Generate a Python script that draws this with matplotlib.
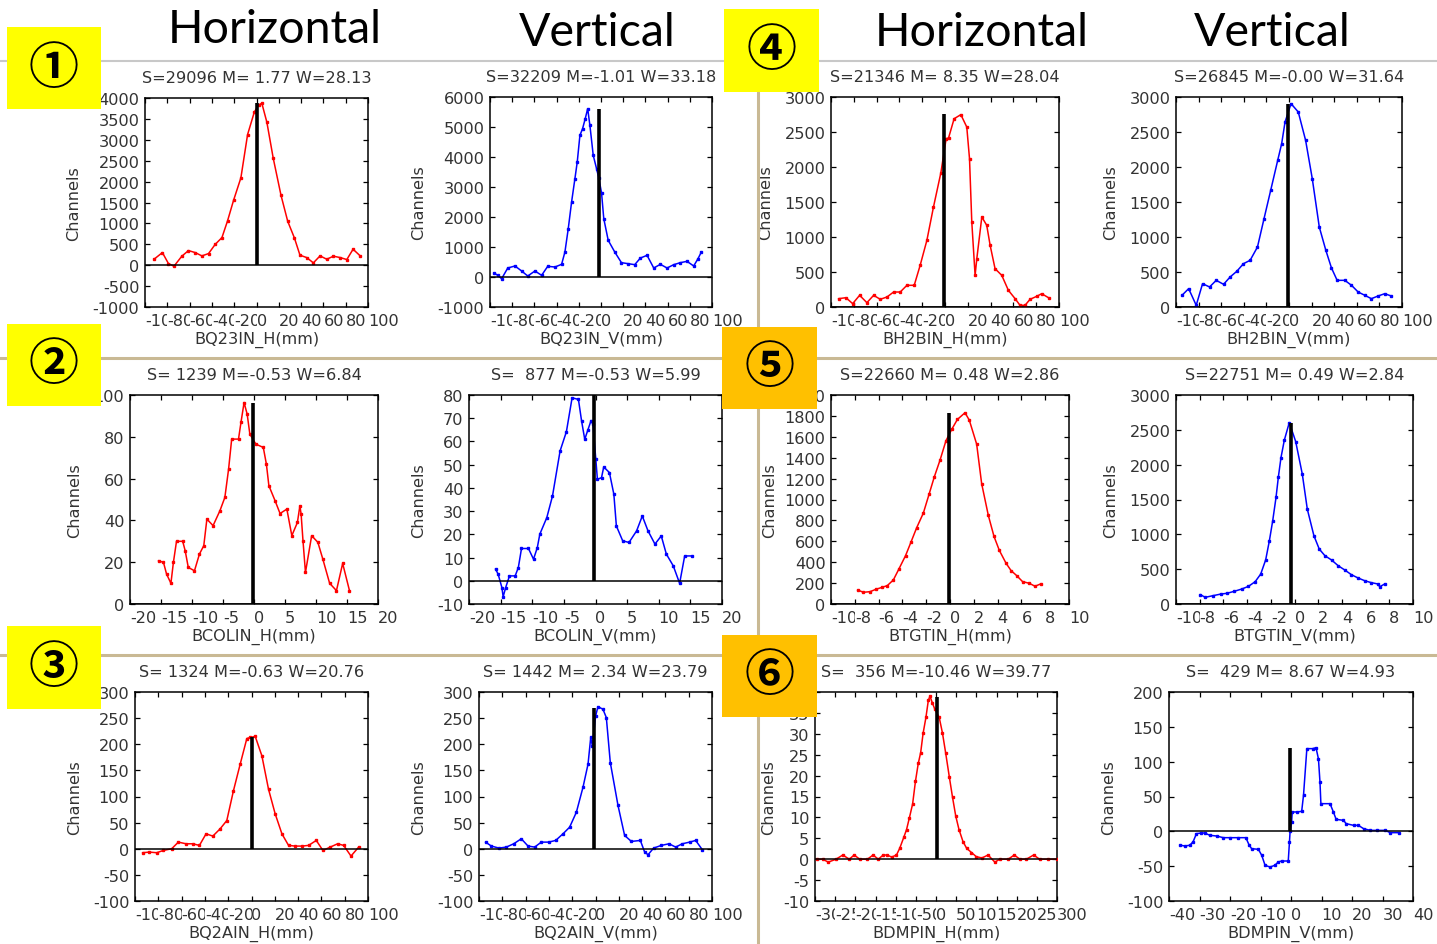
import matplotlib
matplotlib.use('Agg')
import matplotlib.pyplot as plt
from matplotlib.patches import Rectangle
from matplotlib.lines import Line2D

# ---------------- data ----------------
names = ["BQ23IN_H", "BQ23IN_V", "BH2BIN_H", "BH2BIN_V",
         "BCOLIN_H", "BCOLIN_V", "BTGTIN_H", "BTGTIN_V",
         "BQ2AIN_H", "BQ2AIN_V", "BDMPIN_H", "BDMPIN_V"]

titles = ["S=29096 M= 1.77 W=28.13", "S=32209 M=-1.01 W=33.18",
          "S=21346 M= 8.35 W=28.04", "S=26845 M=-0.00 W=31.64",
          "S= 1239 M=-0.53 W=6.84", "S=  877 M=-0.53 W=5.99",
          "S=22660 M= 0.48 W=2.86", "S=22751 M= 0.49 W=2.84",
          "S= 1324 M=-0.63 W=20.76", "S= 1442 M= 2.34 W=23.79",
          "S=  356 M=-10.46 W=39.77", "S=  429 M= 8.67 W=4.93"]

bq23in_h_x = [-91.9, -84.4, -79, -74, -67, -61, -55, -49, -43, -37, -31, -26, -20.6, -14, -8, -2, 1.8, 4.8,
              9.3, 15, 22, 28, 34, 39, 45, 51, 57, 63, 69, 75, 81, 86.6, 93]
bq23in_h_y = [143, 302, 40, -24, 215, 350, 302, 223, 278, 500, 660, 1058, 1550, 2090, 3125, 3660, 3833, 3873,
              3420, 2560, 1670, 1050, 652, 239, 183, 56, 223, 143, 215, 183, 135, 382, 223]

bq23in_v_x = [-96.4, -93, -89.5, -84, -77.5, -71.5, -66, -59.5, -53.5, -48, -41.5, -35.5, -32.5, -29.5, -26.5,
              -23.5, -21.4, -19, -16.6, -14.2, -12, -10, -7, -4, -2, 0.5, 2.5, 6.5, 12.4, 18.4, 24.4, 30.4,
              35.5, 41.5, 47.5, 53.5, 59.5, 65.5, 71.5, 77.5, 83.5, 87.4, 90.4]
bq23in_v_y = [133, 56, -56, 300, 367, 200, 33, 200, 56, 356, 333, 422, 833, 1611, 2500, 3278, 3833, 4722, 4944,
              5278, 5611, 5056, 4056, 3611, 3300, 2800, 1944, 1222, 833, 478, 444, 411, 633, 722, 300, 422, 300,
              411, 478, 522, 367, 611, 833]

bh2bin_h_x = [-93.3, -86.9, -81, -74.9, -68.5, -62.6, -56.8, -50.9, -45.1, -39.3, -33.4, -27, -21.8, -15.9,
              -10.1, -3.6, 1.0, 3.1, 8, 13.9, 19.1, 21.5, 23.5, 26.4, 27.9, 32.3, 36.6, 39.6, 43.9, 49.8, 55.6,
              61.5, 65.8, 70.2, 74.6, 80.4, 84.8, 91.2]
bh2bin_h_y = [119, 133, 48, 167, 62, 167, 110, 143, 214, 214, 310, 310, 595, 952, 1429, 1919, 2405, 2414, 2690,
              2748, 2571, 2119, 1214, 452, 690, 1286, 1167, 881, 548, 452, 238, 119, 24, 24, 110, 152, 190, 129]

bh2bin_v_x = [-94.7, -88.8, -82.1, -76.5, -70.3, -64.4, -57.9, -52.1, -46.2, -40.3, -34.4, -27.9, -22.1, -16.2,
              -10, -6.5, -3.5, 1.8, 8.2, 14.7, 20.6, 26.8, 32.6, 37.6, 42.6, 49.4, 55.3, 61.2, 67.1, 72.9, 78.8,
              84.7, 90.6]
bh2bin_v_y = [167, 262, 24, 333, 286, 381, 324, 429, 510, 619, 667, 857, 1262, 1667, 2095, 2333, 2643, 2905,
              2786, 2381, 1833, 1143, 810, 557, 381, 381, 310, 214, 167, 119, 157, 190, 157]

bcolin_h_x = [-15.4, -14.6, -14.1, -13.4, -13.0, -12.5, -11.5, -11.1, -10.6, -9.6, -8.8, -8.1, -7.6, -6.6, -5.5,
              -4.7, -4.1, -3.6, -2.5, -2.1, -1.6, -1.1, -0.67, 0.3, 1.5, 2.0, 2.4, 3.4, 4.2, 5.3, 6.1, 7.0, 7.4,
              7.6, 7.9, 8.3, 9.3, 10.3, 11.1, 12.2, 13.3, 14.3, 15.4]
bcolin_h_y = [20.7, 19.9, 14.3, 9.9, 19.9, 30, 30, 25.5, 17.5, 15.9, 23.9, 27.9, 40.6, 37.5, 44.6, 51, 64.5,
              78.9, 78.9, 86.9, 96.4, 90.8, 81.3, 76.5, 74.9, 66.9, 56.6, 49.4, 43.3, 45.4, 32.7, 39, 47, 43,
              30.3, 15.1, 32.7, 29.5, 21.5, 9.9, 6.4, 19.4, 6.4]

bcolin_v_x = [-15.8, -15.4, -14.8, -14.6, -14.2, -13.6, -12.7, -12.2, -11.7, -10.6, -9.8, -9.2, -8.8, -7.7, -6.8,
              -5.6, -4.6, -3.7, -2.7, -2.2, -1.7, -1.2, -0.7, -0.4, 0.05, 0.3, 0.95, 1.3, 2.2, 2.9, 3.3, 4.3,
              5.3, 6.5, 7.4, 8.3, 9.4, 10.4, 11.2, 12.3, 13.3, 14.1, 15.3]
bcolin_v_y = [5.0, 2.9, -2.9, -6.9, -2.9, 2.1, 2.1, 5.7, 13.9, 13.9, 9.3, 14.3, 20.1, 27.2, 36.5, 55.9, 64.2,
              78.8, 78.1, 68.8, 60.9, 65, 69, 67.3, 52.3, 43.7, 44.4, 49, 46.6, 37.3, 23.6, 17.2, 16.5, 21.5,
              27.9, 21.5, 15.8, 19.3, 11.5, 6.4, -1.1, 10.7, 10.7]

btgtin_h_x = [-7.76, -7.28, -6.72, -6.22, -5.69, -5.27, -4.76, -4.29, -3.73, -3.28, -2.80, -2.24, -1.76, -1.32,
              -0.84, -0.34, 0.14, 0.62, 1.26, 1.62, 2.24, 2.66, 3.22, 3.70, 4.15, 4.71, 5.13, 5.60, 6.10, 6.67,
              7.14, 7.62]
btgtin_h_y = [134, 112, 118, 141, 160, 176, 230, 336, 464, 592, 730, 870, 1050, 1216, 1376, 1562, 1670, 1766,
              1830, 1760, 1530, 1152, 848, 646, 512, 390, 320, 272, 214, 198, 170, 192]

btgtin_v_x = [-7.95, -7.53, -6.89, -6.21, -5.71, -5.09, -4.45, -3.89, -3.32, -2.85, -2.43, -2.12, -1.84, -1.56,
              -1.36, -1.14, -0.86, -0.44, 0.10, 0.66, 1.08, 1.64, 2.09, 2.57, 3.13, 3.69, 4.25, 4.81, 5.37, 5.93,
              6.49, 7.05, 7.19, 7.61]
btgtin_v_y = [134, 96, 119, 143, 153, 182, 215, 253, 320, 430, 635, 908, 1194, 1529, 1825, 2102, 2351, 2604,
              2332, 1863, 1362, 979, 788, 693, 631, 549, 487, 420, 373, 334, 306, 287, 248, 287]

bq2ain_h_x = [-93.4, -87.7, -81.4, -75.6, -68.5, -62.8, -56.2, -50.4, -44.7, -39.0, -33.2, -26.9, -21.2, -15.5,
              -9.7, -4.0, -1.1, 3.2, 8.9, 14.6, 20.3, 26.1, 31.8, 37.5, 43.3, 49.0, 55.6, 61.3, 67.6, 73.9, 79.1,
              85.4, 92.0]
bq2ain_h_y = [-7.6, -6.4, -7.6, -3.2, 0, 12.7, 9.5, 9.5, 6.4, 28.6, 24.2, 38.2, 54, 111, 162, 211, 213, 215, 178,
              114, 67, 28.6, 6.4, 5.1, 5.1, 6.4, 15.9, -3.2, 3.2, 9.5, 6.4, -14, 3.2]

bq2ain_v_x = [-94.3, -89.4, -82.8, -76.5, -70.2, -63.7, -57.9, -52.2, -46.5, -40.2, -34.2, -27.9, -22.2, -16.4,
              -10.7, -6.4, -4.1, -2.7, 0.1, 2.1, 6.4, 9.3, 12.7, 19.3, 25.0, 30.8, 38.5, 42.2, 45.1, 49.9, 56.5,
              63.1, 68.8, 74.5, 80.8, 86.0, 91.7]
bq2ain_v_y = [12.7, 5.1, 1.3, 3.2, 9.5, 19.1, 5.1, 3.2, 12.7, 12.7, 15.9, 28.6, 41.3, 70, 118, 162, 213, 197,
              254, 272, 267, 251, 165, 83, 25.4, 14, 15.9, -6.4, -11.4, 1.3, 6.4, 9.5, 3.2, 9.5, 12.7, 15.9, -1.9]

bdmpin_h_x = [-296, -281, -267, -248, -231, -215, -203, -189, -170, -156, -143, -131, -121, -110, -98, -90, -80,
              -73, -66, -58, -51, -44, -38, -32, -25, -19, -15, -9, -3, 8, 16, 24, 33, 41, 49, 57, 67, 76, 88,
              100, 114, 129, 146, 158, 179, 194, 208, 224, 242, 257, 278, 300]
bdmpin_h_y = [0, 0, -0.7, 0, 1, 0, 1, 0, 0, 1, 0, 1, 1, 0.5, 1, 2.6, 5.2, 7.1, 9.9, 13.2, 18.6, 22.9, 25.5, 30.1,
              33.9, 38, 39, 37.4, 35.9, 33.9, 30.2, 25.4, 19.7, 14.8, 10.3, 7.1, 4.2, 2.6, 1.6, 0.6, 0.3, 1,
              -0.7, 0, 0, 1, 0, 0, 1, 0, 0, 0]

bdmpin_v_x = [-36.3, -34.8, -33.2, -32.1, -31.0, -29.4, -28.3, -26.6, -24.4, -22.2, -20.1, -17.3, -14.8, -13.7,
              -12.9, -10.7, -9.6, -8.5, -6.9, -5.3, -4.2, -3.1, -0.9, -0.5, -0.3, 0.2, 0.4, 1.9, 3.5, 4.1, 5.2,
              7.1, 8.2, 9.0, 9.5, 9.8, 12.8, 13.9, 14.8, 17.2, 18.1, 20.5, 22.1, 23.8, 26.0, 28.2, 30.9, 32.5, 35.3]
bdmpin_v_y = [-20, -21, -20, -15, -3.3, -2.4, -2.4, -5.7, -6.7, -9.1, -9.1, -9.1, -9.1, -20, -24.9, -25.8, -34.4,
              -48.8, -51.2, -48.8, -44, -42.6, -42.6, -15, 0, 13.4, 27.8, 27.8, 28.7, 51.7, 118.7, 118.7, 120,
              104, 70.8, 39.7, 39.7, 27.8, 17.2, 15.8, 11, 8.6, 8.6, 3.8, 1.4, 1.4, 1.4, -1.9, -1.9]

series_x = [bq23in_h_x, bq23in_v_x, bh2bin_h_x, bh2bin_v_x, bcolin_h_x, bcolin_v_x,
            btgtin_h_x, btgtin_v_x, bq2ain_h_x, bq2ain_v_x, bdmpin_h_x, bdmpin_v_x]
series_y = [bq23in_h_y, bq23in_v_y, bh2bin_h_y, bh2bin_v_y, bcolin_h_y, bcolin_v_y,
            btgtin_h_y, btgtin_v_y, bq2ain_h_y, bq2ain_v_y, bdmpin_h_y, bdmpin_v_y]

# black marker line: position and height
marker_x = [0.3, -1.6, -0.7, -0.6, -0.15, -0.2, -0.1, -0.3, 0.0, -1.6, 3, -0.3]
marker_h = [3880, 5600, 2760, 2900, 96, 80, 1824, 2604, 213, 270, 38.8, 120]

# axis ranges / tick values
x_ticks = [list(range(-100, 101, 20)), list(range(-100, 101, 20)), list(range(-100, 101, 20)),
           list(range(-100, 101, 20)), list(range(-20, 21, 5)), list(range(-20, 21, 5)),
           list(range(-10, 11, 2)), list(range(-10, 11, 2)), list(range(-100, 101, 20)),
           list(range(-100, 101, 20)), list(range(-300, 301, 50)), list(range(-40, 41, 10))]
y_ticks = [list(range(-1000, 4001, 500)), list(range(-1000, 6001, 1000)), list(range(0, 3001, 500)),
           list(range(0, 3001, 500)), list(range(0, 101, 20)), list(range(-10, 81, 10)),
           list(range(0, 2001, 200)), list(range(0, 3001, 500)), list(range(-100, 301, 50)),
           list(range(-100, 301, 50)), list(range(-10, 41, 5)), list(range(-100, 201, 50))]

headers = ["Horizontal", "Vertical", "Horizontal", "Vertical"]
badges = ["①", "②", "③", "④", "⑤", "⑥"]

# ---------------- layout (pixels) ----------------
W, H = 1437, 945
boxes = [(145, 99, 368, 308), (490, 98, 712, 308), (831, 98, 1059, 308), (1176, 98, 1402, 308),
         (130, 396, 378, 605), (469, 396, 722, 605), (831, 396, 1069, 605), (1176, 396, 1413, 605),
         (135, 693, 368, 902), (479, 693, 712, 902), (815, 693, 1057, 902), (1169, 693, 1413, 902)]
ylabel_pads = [8, 8, 8, 8, 8, 8, 5, 8, 8, 8, 5, 8]
header_pos = [(275, 43), (597, 46), (982, 46), (1272, 46)]
badge_boxes = [(7, 28, 101, 110, '#FFFF00'), (7, 325, 101, 407, '#FFFF00'), (7, 627, 101, 710, '#FFFF00'),
               (724, 10, 819, 93, '#FFFF00'), (722, 328, 817, 410, '#FFC000'), (722, 636, 817, 718, '#FFC000')]

TXT = '#333333'
FS = 11.6

fig = plt.figure(figsize=(W / 100, H / 100), dpi=100)
fig.patch.set_facecolor('white')


def fx(px):
    return px / W


def fy(py):
    return 1 - py / H


for i in range(12):
    l, t, r, b = boxes[i]
    ax = fig.add_axes([fx(l), fy(b), (r - l) / W, (b - t) / H])
    col = '#ff0000' if names[i].endswith('_H') else '#0000ff'
    ax.plot(series_x[i], series_y[i], color=col, lw=1.1, marker='s', ms=1.8, mfc=col, mec=col, zorder=3)
    ax.axhline(0, color='black', lw=1.1, zorder=4)
    ax.plot([marker_x[i], marker_x[i]], [0, marker_h[i]], color='black', lw=2.6,
            solid_capstyle='butt', zorder=5)
    xt, yt = x_ticks[i], y_ticks[i]
    ax.set_xlim(xt[0], xt[-1])
    ax.set_ylim(yt[0], yt[-1])
    ax.set_xticks(xt, labels=[str(v) for v in xt], ha='left',
                  bbox=dict(facecolor='white', edgecolor='none', pad=0))
    ax.set_yticks(yt, labels=[str(v) for v in yt])
    ax.tick_params(direction='in', top=True, right=True, length=3.6, width=0.9,
                   labelsize=FS, labelcolor=TXT, color='black')
    ax.tick_params(axis='x', pad=4)
    ax.tick_params(axis='y', pad=4)
    for s in ax.spines.values():
        s.set_linewidth(1.1)
        s.set_color('black')
    ax.set_title(titles[i], fontsize=FS, color=TXT, pad=11.5)
    ax.set_xlabel(names[i] + "(mm)", fontsize=FS, color=TXT, labelpad=2)
    ax.set_ylabel("Channels", fontsize=FS, color=TXT, labelpad=ylabel_pads[i])

# separators
fig.add_artist(Line2D([0, 1], [fy(62), fy(62)], transform=fig.transFigure, color='#c8c8c8', lw=1.5, zorder=6))
for yy in (359, 656):
    fig.add_artist(Line2D([0, 1], [fy(yy), fy(yy)], transform=fig.transFigure, color='#c9b994', lw=2.2,
                          zorder=6))
fig.add_artist(Line2D([fx(758), fx(758)], [fy(62), 0], transform=fig.transFigure, color='#c9b994', lw=2.2,
                      zorder=6))

# headers
for txt, (hx, hy) in zip(headers, header_pos):
    fig.text(fx(hx), fy(hy), txt, ha='center', va='baseline', fontsize=33.5, family='Lato', color='black')

# badges
for lbl, (l, t, r, b, c) in zip(badges, badge_boxes):
    fig.add_artist(Rectangle((fx(l), fy(b)), (r - l) / W, (b - t) / H, transform=fig.transFigure,
                             facecolor=c, edgecolor='none', zorder=10))
    fig.text(fx((l + r) / 2), fy((t + b) / 2), lbl, ha='center', va='center', fontsize=36,
             family=['Noto Sans CJK JP', 'DejaVu Sans'], fontweight='bold', color='black', zorder=11)

fig.savefig('out.png', dpi=100)
